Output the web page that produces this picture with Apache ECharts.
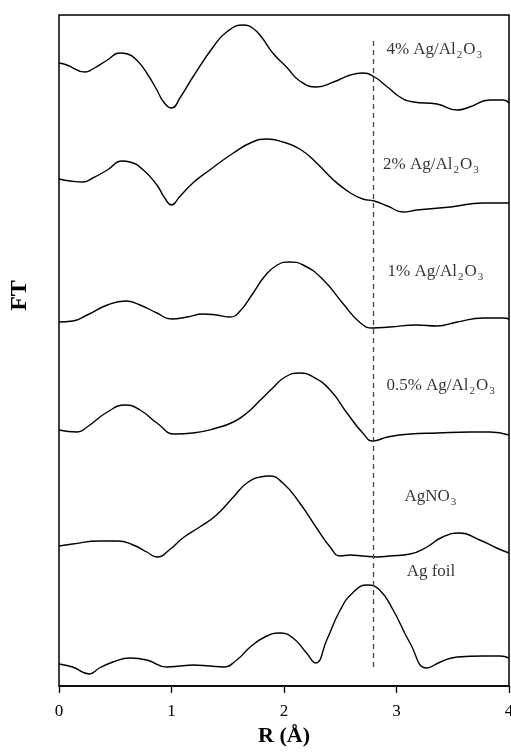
<!DOCTYPE html>
<html>
<head>
<meta charset="utf-8">
<script src="https://cdn.jsdelivr.net/npm/echarts@6/dist/echarts.min.js"></script>
<style>
  html, body { margin: 0; padding: 0; background: #fff; }
  #chart { width: 511px; height: 753px; }
</style>
</head>
<body>
<div id="chart"></div>
<script>
// FT curves, [R (Å), FT offset]
var ag4 = [[0,6.23],[0.07,6.21],[0.23,6.14],[0.30,6.17],[0.43,6.26],[0.54,6.33],[0.61,6.32],[0.69,6.26],[0.78,6.13],[0.87,5.96],[0.93,5.84],[1.00,5.78],[1.08,5.89],[1.19,6.09],[1.37,6.39],[1.49,6.54],[1.64,6.61],[1.72,6.58],[1.80,6.49],[1.90,6.33],[2.03,6.18],[2.14,6.05],[2.29,5.99],[2.44,6.04],[2.59,6.11],[2.70,6.13],[2.79,6.10],[2.92,5.99],[3.03,5.89],[3.15,5.84],[3.36,5.82],[3.54,5.76],[3.65,5.79],[3.83,5.86],[3.95,5.86],[4.00,5.83]];
var ag2 = [[0,5.07],[0.10,5.05],[0.21,5.04],[0.30,5.08],[0.43,5.16],[0.56,5.25],[0.63,5.24],[0.75,5.16],[0.87,5.01],[0.94,4.88],[1.00,4.81],[1.07,4.89],[1.19,5.03],[1.34,5.16],[1.55,5.33],[1.72,5.44],[1.85,5.47],[1.99,5.44],[2.14,5.37],[2.29,5.23],[2.44,5.06],[2.59,4.93],[2.70,4.87],[2.80,4.85],[2.92,4.80],[3.06,4.74],[3.18,4.76],[3.48,4.79],[3.77,4.83],[4.00,4.83]];
var ag1 = [[0,3.64],[0.12,3.65],[0.25,3.71],[0.43,3.81],[0.59,3.85],[0.72,3.81],[0.87,3.73],[1.00,3.67],[1.14,3.69],[1.28,3.72],[1.40,3.71],[1.52,3.69],[1.61,3.75],[1.72,3.92],[1.83,4.10],[1.94,4.21],[2.05,4.24],[2.17,4.21],[2.35,4.06],[2.52,3.83],[2.68,3.63],[2.79,3.58],[2.94,3.59],[3.18,3.61],[3.36,3.60],[3.54,3.64],[3.77,3.68],[3.95,3.68],[4.00,3.67]];
var ag05 = [[0,2.56],[0.16,2.54],[0.25,2.59],[0.43,2.74],[0.59,2.81],[0.72,2.76],[0.87,2.63],[1.03,2.52],[1.19,2.53],[1.40,2.58],[1.55,2.64],[1.67,2.73],[1.79,2.86],[1.90,2.98],[2.01,3.09],[2.14,3.13],[2.26,3.09],[2.41,2.96],[2.56,2.73],[2.70,2.53],[2.79,2.45],[2.92,2.49],[3.12,2.52],[3.36,2.53],[3.65,2.54],[3.83,2.54],[4.00,2.51]];
var agno3 = [[0,1.40],[0.12,1.42],[0.36,1.45],[0.52,1.45],[0.66,1.41],[0.78,1.34],[0.87,1.29],[0.99,1.37],[1.10,1.48],[1.25,1.59],[1.40,1.71],[1.55,1.89],[1.67,2.03],[1.79,2.09],[1.87,2.10],[1.99,2.03],[2.14,1.83],[2.29,1.58],[2.41,1.39],[2.50,1.30],[2.59,1.31],[2.70,1.30],[2.83,1.29],[2.94,1.30],[3.12,1.32],[3.27,1.39],[3.41,1.49],[3.56,1.53],[3.74,1.46],[3.89,1.38],[4.00,1.33]];
var agfoil = [[0,0.22],[0.12,0.19],[0.27,0.12],[0.36,0.18],[0.48,0.24],[0.63,0.28],[0.78,0.26],[0.96,0.19],[1.08,0.20],[1.19,0.21],[1.34,0.20],[1.46,0.19],[1.58,0.26],[1.70,0.39],[1.83,0.49],[1.96,0.53],[2.08,0.48],[2.20,0.33],[2.28,0.23],[2.38,0.46],[2.50,0.76],[2.61,0.93],[2.74,1.01],[2.85,0.96],[2.97,0.76],[3.12,0.43],[3.27,0.18],[3.39,0.24],[3.54,0.29],[3.77,0.30],[3.92,0.30],[4.00,0.28]];

var curveNames = ['4% Ag/Al2O3', '2% Ag/Al2O3', '1% Ag/Al2O3', '0.5% Ag/Al2O3', 'AgNO3', 'Ag foil'];
// where each label starts (left edge, middle), in data units
var labelR = [2.91, 2.88, 2.92, 2.91, 3.07, 3.09];
var labelFT = [6.36, 5.21, 4.14, 3.00, 1.89, 1.14];

var dashR = 2.79;
var dashFT = [0.19, 6.46];
var xTicks = [0, 1, 2, 3, 4];

var serif = 'Liberation Serif';
var myChart = echarts.init(document.getElementById('chart'));

var curves = [ag4, ag2, ag1, ag05, agno3, agfoil];
var series = curves.map(function (d, i) {
  return {
    name: curveNames[i],
    type: 'line',
    data: d,
    smooth: 0.5,
    showSymbol: false,
    lineStyle: { color: '#000', width: 1.4 },
    z: 3
  };
});

// dashed marker at the Ag-Ag distance
series.push({
  type: 'line',
  data: [],
  markLine: {
    silent: true,
    symbol: 'none',
    label: { show: false },
    lineStyle: { color: '#444', type: [5, 4], width: 1.3 },
    data: [[{ coord: [dashR, dashFT[0]] }, { coord: [dashR, dashFT[1]] }]]
  }
});

// curve labels
series.push({
  type: 'scatter',
  symbolSize: 0,
  silent: true,
  data: curveNames.map(function (n, i) { return { value: [labelR[i], labelFT[i]], name: n }; }),
  label: {
    show: true,
    position: 'right',
    distance: 0,
    color: '#000',
    fontFamily: serif,
    fontSize: 17,
    formatter: function (p) {
      return p.name.replace(/([A-Za-z])(\d)/g, '$1{s|$2}');
    },
    rich: {
      s: { fontFamily: serif, fontSize: 11, color: '#000', padding: [10, 1, 0, 1], verticalAlign: 'top' }
    }
  },
  z: 4
});

myChart.setOption({
  animation: false,
  grid: {
    left: 59, right: 2, top: 15, bottom: 67,
    outerBoundsMode: 'none',
    containLabel: false,
    show: true,
    borderColor: '#000',
    borderWidth: 1.5
  },
  xAxis: {
    type: 'value',
    min: xTicks[0],
    max: xTicks[xTicks.length - 1],
    interval: 1,
    name: 'R (Å)',
    nameLocation: 'middle',
    nameGap: 37,
    nameTextStyle: { fontFamily: serif, fontSize: 22, fontWeight: 'bold', color: '#000' },
    axisLine: { show: true, lineStyle: { color: '#000', width: 1.5 } },
    axisTick: { show: true, inside: false, length: 7, lineStyle: { color: '#000', width: 1.3 } },
    axisLabel: { fontFamily: serif, fontSize: 17, color: '#000', margin: 17 },
    splitLine: { show: false }
  },
  yAxis: {
    type: 'value',
    min: 0,
    max: 6.71,
    name: 'FT',
    nameLocation: 'middle',
    nameGap: 27,
    nameTextStyle: { fontFamily: serif, fontSize: 24, fontWeight: 'bold', color: '#000', padding: [0, 0, 0, 110] },
    axisLine: { show: false },
    axisTick: { show: false },
    axisLabel: { show: false },
    splitLine: { show: false }
  },
  series: series
});
</script>
</body>
</html>
